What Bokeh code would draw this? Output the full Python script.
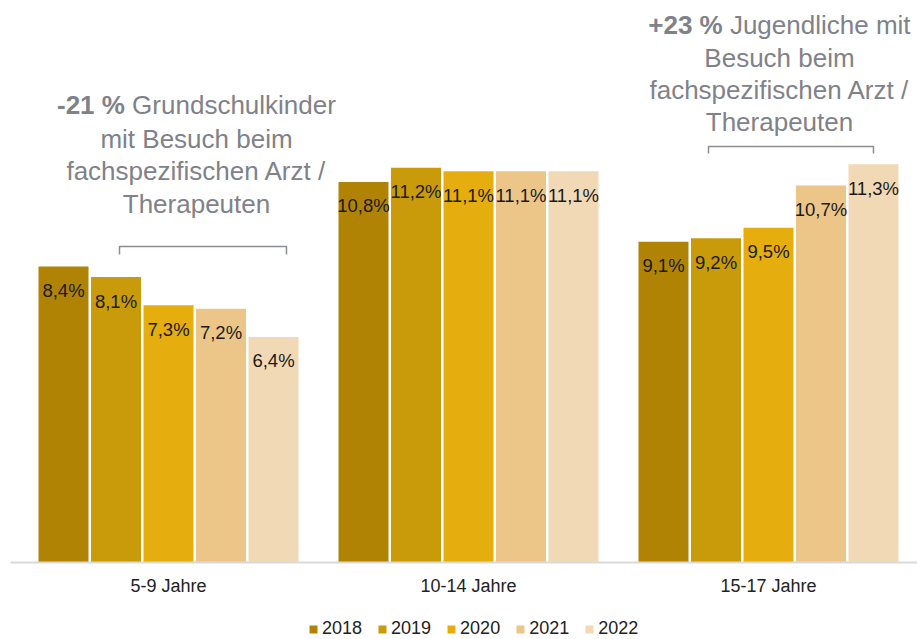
from bokeh.plotting import figure
from bokeh.models import ColumnDataSource, Legend, LegendItem, Label, Span
from bokeh.embed import file_html
from bokeh.resources import INLINE
from bokeh.core.properties import value

# ---------------- data ----------------
categories = ["5-9 Jahre", "10-14 Jahre", "15-17 Jahre"]
years = ["2018", "2019", "2020", "2021", "2022"]
v2018 = [8.4, 10.8, 9.1]
v2019 = [8.1, 11.2, 9.2]
v2020 = [7.3, 11.1, 9.5]
v2021 = [7.2, 11.1, 10.7]
v2022 = [6.4, 11.1, 11.3]
series = [v2018, v2019, v2020, v2021, v2022]
colors = ["#B08305", "#C99A0A", "#E5AE0E", "#ECC688", "#F2D9B5"]

left_note_bold = "-21 %"
left_note_lines = ["Grundschulkinder", "mit Besuch beim", "fachspezifischen Arzt /", "Therapeuten"]
right_note_bold = "+23 %"
right_note_lines = ["Jugendliche mit", "Besuch beim", "fachspezifischen Arzt /", "Therapeuten"]

FONT = "Liberation Sans"
GRAY = "#7F8289"
BRACKET = "#8A8D93"


def fmt(v):
    return f"{v:.1f}".replace(".", ",") + "%"


p = figure(width=917, height=639, x_range=(-0.5267, 2.4967), y_range=(-2.185, 15.948),
           output_backend="svg", toolbar_location=None,
           x_axis_location=None, y_axis_location=None,
           min_border_left=10, min_border_right=0, min_border_top=0, min_border_bottom=0)
p.outline_line_color = None
p.xgrid.visible = False
p.ygrid.visible = False
p.background_fill_color = "white"
p.border_fill_color = "white"

# category axis (baseline + category labels)
p.add_layout(Span(location=0, dimension="width", line_color="#D9D9D9", line_width=2))
cat_src = ColumnDataSource(dict(x=list(range(len(categories))), y=[0] * len(categories),
                                label=categories))
p.text(x="x", y="y", text="label", source=cat_src, text_align="center",
       text_baseline="middle", y_offset=23, text_font=value(FONT),
       text_font_size="18px", text_color="#222222")

pitch = 0.175
bar_w = 0.1667
items = []
for i, (yr, vals, col) in enumerate(zip(years, series, colors)):
    xs = [c + (i - 2) * pitch for c in range(len(categories))]
    src = ColumnDataSource(dict(x=xs, top=vals, label=[fmt(v) for v in vals]))
    r = p.vbar(x="x", top="top", bottom=0, width=bar_w, source=src,
               fill_color=col, line_color=None)
    p.text(x="x", y="top", text="label", source=src, text_align="center",
           text_baseline="middle", y_offset=24, text_font=value(FONT),
           text_font_size="18.5px", text_color="#1a1a1a")
    items.append(LegendItem(label=yr, renderers=[r]))

legend = Legend(items=items, orientation="horizontal", location=(298, 0),
                glyph_width=10, glyph_height=10, label_standoff=4, spacing=15,
                padding=0, margin=0, border_line_color=None,
                background_fill_color=None, label_text_font=FONT,
                label_text_font_size="18px", label_text_color="#222222")
p.add_layout(legend, "center")


def note(bold, lines, cx, bold_end, reg_start, ys):
    p.add_layout(Label(x=bold_end, y=ys[0], text=bold, text_align="right",
                       text_baseline="middle", text_font=FONT, text_font_size="26px",
                       text_font_style="bold", text_color=GRAY))
    p.add_layout(Label(x=reg_start, y=ys[0], text=lines[0], text_align="left",
                       text_baseline="middle", text_font=FONT, text_font_size="26px",
                       text_color=GRAY))
    for t, y in zip(lines[1:], ys[1:]):
        p.add_layout(Label(x=cx, y=y, text=t, text_align="center",
                           text_baseline="middle", text_font=FONT,
                           text_font_size="26px", text_color=GRAY))


note(left_note_bold, left_note_lines, 0.0933, -0.1453, -0.1213,
     [12.97, 12.03, 11.11, 10.187])
note(right_note_bold, right_note_lines, 2.0367, 1.8473, 1.8713,
     [15.24, 14.33, 13.42, 12.514])

# brackets
p.line(x=[-0.1633, -0.1633, 0.3933, 0.3933], y=[8.74, 8.967, 8.967, 8.74],
       line_color=BRACKET, line_width=1.5)
p.line(x=[1.8, 1.8, 2.35, 2.35], y=[11.606, 11.805, 11.805, 11.606],
       line_color=BRACKET, line_width=1.5)

open("out.html", "w").write(file_html(p, INLINE))
